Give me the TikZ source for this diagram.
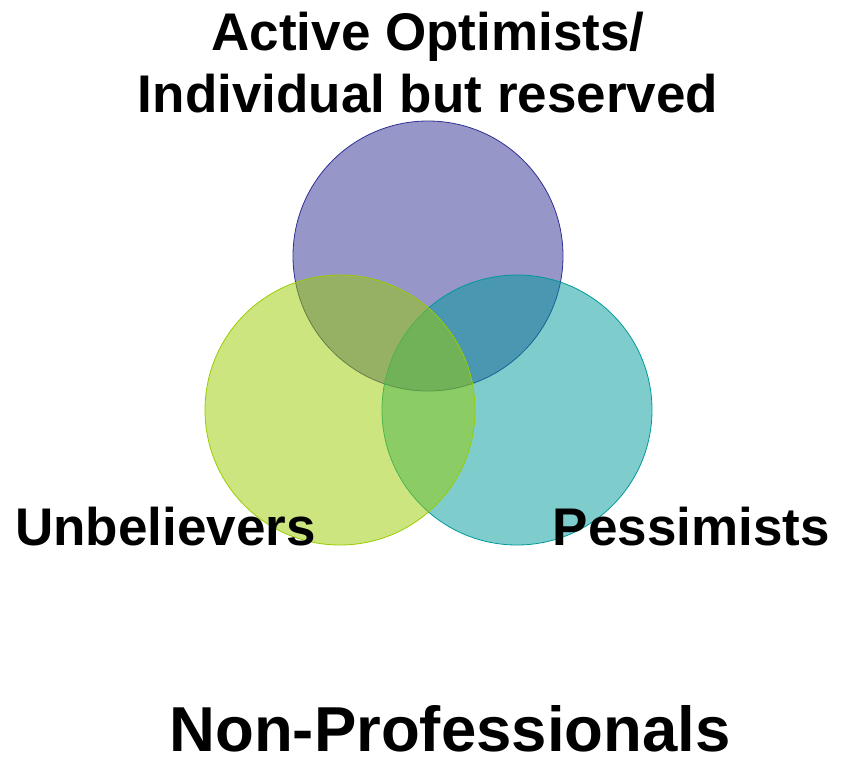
\documentclass[tikz,border=0pt]{standalone}
\usepackage{fontspec}
\setmainfont{Liberation Sans}
\definecolor{optblue}{RGB}{46,46,148}
\definecolor{unbgreen}{RGB}{153,204,0}
\definecolor{pesteal}{RGB}{0,153,153}
\begin{document}
\begin{tikzpicture}[x=1pt, y=-1pt,
    set/.style = {draw, circle, line width=0.8pt, minimum size=270pt, inner sep=0pt, fill opacity=0.5, draw opacity=1},
    label/.style = {font=\fontsize{53}{62}\selectfont\bfseries, inner sep=0pt}]
        \useasboundingbox (0,0) rectangle (843,758);
        \node[set, draw=optblue, fill=optblue] (opt) at (428,256) {};
        \node[set, draw=pesteal, fill=pesteal] (pes) at (517,410) {};
        \node[set, draw=unbgreen, fill=unbgreen] (unb) at (340,410) {};
        \node[label, align=center, anchor=base] (optlab) at (428,112) {Active Optimists/\\Individual but reserved};
        \node[label, anchor=base west] (unblab) at (15,545) {Unbelievers};
        \node[label, anchor=base east] (peslab) at (830,545) {Pessimists};
        \node[label, font=\fontsize{63.5}{70}\selectfont\bfseries, anchor=base] (nonpro) at (450,751) {Non-Professionals};
    \end{tikzpicture}
\end{document}
